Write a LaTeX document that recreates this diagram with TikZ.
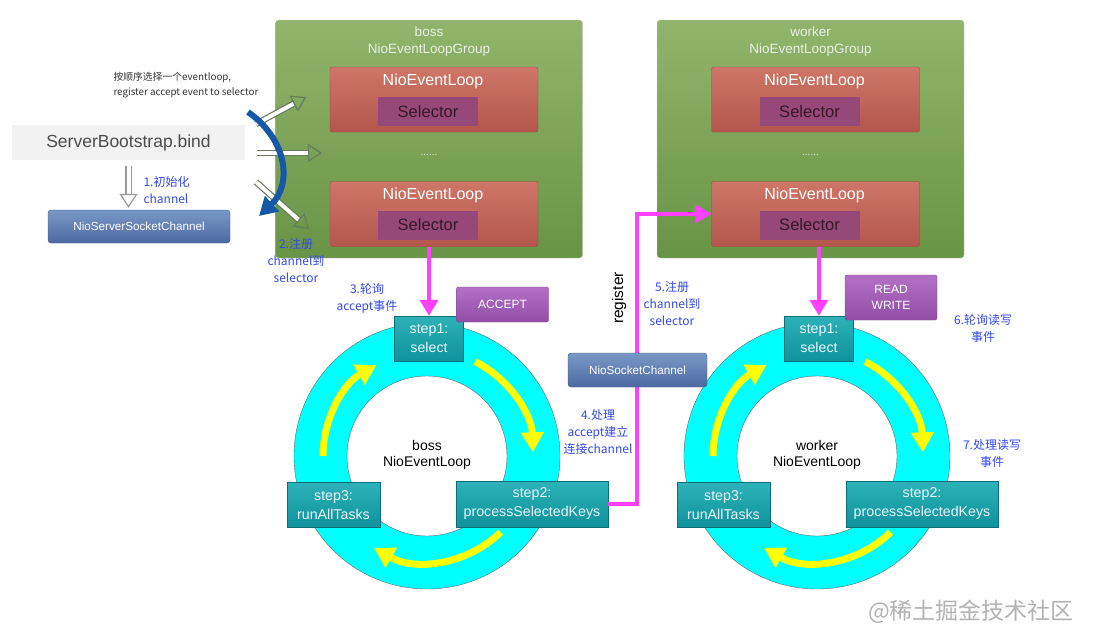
\documentclass[tikz,border=0pt]{standalone}
\usepackage{fontspec}
\setmainfont{Liberation Sans}
\newfontfamily\cjk{Noto Sans CJK SC}
\usetikzlibrary{arrows.meta, calc, positioning}
\definecolor{grptop}{RGB}{146,180,108}
\definecolor{grpbot}{RGB}{104,148,70}
\definecolor{looptop}{RGB}{206,118,104}
\definecolor{loopbot}{RGB}{180,86,76}
\definecolor{selcol}{RGB}{150,72,120}
\definecolor{steptop}{RGB}{44,178,184}
\definecolor{stepbot}{RGB}{16,146,156}
\definecolor{stepedge}{RGB}{12,110,120}
\definecolor{chantop}{RGB}{122,152,198}
\definecolor{chanbot}{RGB}{76,106,160}
\definecolor{evtop}{RGB}{180,112,198}
\definecolor{evbot}{RGB}{146,78,164}
\definecolor{magarrow}{RGB}{255,64,255}
\definecolor{labelblue}{RGB}{52,72,232}
\definecolor{bendblue}{RGB}{22,88,168}
\definecolor{hollowedge}{RGB}{104,124,90}
\definecolor{ringcol}{RGB}{0,255,255}
\definecolor{cyclecol}{RGB}{255,255,0}
\tikzset{>=latex}
\tikzset{
  grp/.style={draw=white!60!grpbot, rounded corners=3pt, top color=grptop,
    bottom color=grpbot, minimum width=307pt, minimum height=238pt},
  grptitle/.style={align=center, text=white!85!grpbot,
    font=\fontsize{13.5}{17}\selectfont},
  loopbox/.style={draw=loopbot!85!black, rounded corners=2pt, top color=looptop,
    bottom color=loopbot, minimum width=208pt, minimum height=65pt},
  looptitle/.style={text=white, font=\fontsize{16}{18}\selectfont},
  selbox/.style={fill=selcol, minimum width=100pt, minimum height=29pt,
    text=selcol!35!black, font=\fontsize{16.5}{18}\selectfont},
  ring/.style={fill=ringcol, draw=black!60, thin, even odd rule},
  cycle/.style={cyclecol, line width=7pt, -{Triangle[length=20pt,width=22pt]}},
  stepbox/.style={draw=stepedge, top color=steptop, bottom color=stepbot,
    align=center, text=white!90!cyan, inner sep=0pt,
    font=\fontsize{14.2}{19}\selectfont},
  chanbox/.style={draw=chanbot!85!black, rounded corners=3pt, top color=chantop,
    bottom color=chanbot, text=white, font=\fontsize{11.7}{14}\selectfont},
  evbox/.style={draw=evbot!85!black, rounded corners=2pt, top color=evtop,
    bottom color=evbot, text=white, align=center,
    font=\fontsize{12}{16}\selectfont, minimum width=92pt},
  note/.style={align=center, text=labelblue, font=\cjk\fontsize{12}{17}\selectfont},
  magline/.style={magarrow, line width=4pt, -{Triangle[length=16pt,width=18pt]}},
  hollow/.style={draw=hollowedge, double=white, double distance=4pt,
    line width=1.2pt, -{Triangle[open, length=14pt, width=18pt]}},
}

\begin{document}
\begin{tikzpicture}[x=1pt, y=-1pt]
  \useasboundingbox (0,0) rectangle (1103,640);
  % the two groups
  \foreach \g/\x in {boss/429, worker/810.5} {
    \node[grp] (\g-grp) at (\x,139) {};
    \node[grptitle] at (\x,42) {\g\\NioEventLoopGroup};
    \node[loopbox] (\g-loopA) at (\x+5,99.5) {};
    \node[loopbox] (\g-loopB) at (\x+5,214) {};
    \node[looptitle] at (\x+4,81) {NioEventLoop};
    \node[looptitle] at (\x+4,195) {NioEventLoop};
    \node[selbox] (\g-selA) at (\x-1,111.5) {Selector};
    \node[selbox] (\g-selB) at (\x-1,225) {Selector};
    \node[text=white!80!grpbot, font=\fontsize{10}{12}\selectfont] at (\x,155) {......};
  }
  % the two loops
  \foreach \g/\cx in {boss/427, worker/817} {
    \draw[ring] (\cx,456) circle[radius=133] (\cx,456) circle[radius=80];
    \draw[cycle] (\cx,456) ++(-63:106) arc[start angle=-63, end angle=-2, radius=106];
    \draw[cycle] (\cx,456) ++(46:106) arc[start angle=46, end angle=120, radius=106];
    \draw[cycle] (\cx,456) ++(180:104) arc[start angle=180, end angle=241, radius=104];
    \node[align=center, font=\fontsize{14}{16.5}\selectfont] at (\cx,455) {\g\\NioEventLoop};
    \node[stepbox, minimum width=69pt, minimum height=45pt] (\g-step1)
      at (\cx+2,338.5) {step1:\\select};
    \node[stepbox, minimum width=152pt, minimum height=46pt] (\g-step2)
      at (\cx+105,504) {step2:\\processSelectedKeys};
    \node[stepbox, minimum width=93pt, minimum height=45pt] (\g-step3)
      at (\cx-93.5,505) {step3:\\runAllTasks};
  }
  \draw[magline] (boss-step1.north |- boss-loopB.south) -- (boss-step1.north);
  \draw[magline] (worker-step1.north |- worker-loopB.south) -- (worker-step1.north);
  \draw[magline] (boss-step2.east) -- ++(29,0) |- (worker-loopB.west);
  \node[chanbox, minimum width=139pt, minimum height=34pt] (nsc)
    at (637.5,370) {NioSocketChannel};
  \node[rotate=90, font=\fontsize{15.5}{17}\selectfont] (reg) at (619,298) {register};
  \node[evbox, minimum height=35pt] (accept) at (502.5,304.5) {ACCEPT};
  \node[evbox, minimum height=45pt] (rw) at (891,297.5) {READ\\WRITE};

  % bind side
  \node[fill=black!5, text=black!70, minimum width=233pt, minimum height=35pt,
    font=\fontsize{17.5}{20}\selectfont] (bind) at (128.5,142.5) {ServerBootstrap.bind};
  \node[chanbox, minimum width=182pt, minimum height=33pt] (nssc)
    at (139,226.5) {NioServerSocketChannel};
  \draw[hollow, draw=black!40, shorten <=6pt, shorten >=2pt]
    (bind.south) -- (bind.south |- nssc.north);
  \node[anchor=west, align=left, text=black!80, font=\cjk\fontsize{9.8}{15}\selectfont]
    (pick) at (110,85) {按顺序选择一个eventloop,\\register accept event to selector};
  \coordinate (fromA) at (256,124);
  \coordinate (fromB) at (257,153);
  \coordinate (fromC) at (256,182);
  \coordinate (toA) at (306,97);
  \coordinate (toB) at (322,153);
  \coordinate (toC) at (309,229);
  \draw[hollow] (fromA) -- (toA);
  \draw[hollow] (fromB) -- (toB);
  \draw[hollow] (fromC) -- (toC);
  \coordinate (bendstart) at (248,112);
  \coordinate (bendend) at (259,216);
  \draw[bendblue, line width=6pt, -{Triangle[length=18pt,width=20pt]}]
    (bendstart) .. controls (288,140) and (292,185) .. (bendend);

  % step labels
  \node[note, anchor=west, align=left] at (140,190) {1.初始化\\channel};
  \node[note] at (296,261) {2.注册\\channel到\\selector};
  \node[note] at (367,298) {3.轮询\\accept事件};
  \node[note] at (598,432) {4.处理\\accept建立\\连接channel};
  \node[note] at (672,304) {5.注册\\channel到\\selector};
  \node[note] at (983,328) {6.轮询读写\\事件};
  \node[note] at (992,453) {7.处理读写\\事件};
  \node[text=black!30, font=\cjk\fontsize{23}{26}\selectfont] at (971,612) {@稀土掘金技术社区};
\end{tikzpicture}
\end{document}
